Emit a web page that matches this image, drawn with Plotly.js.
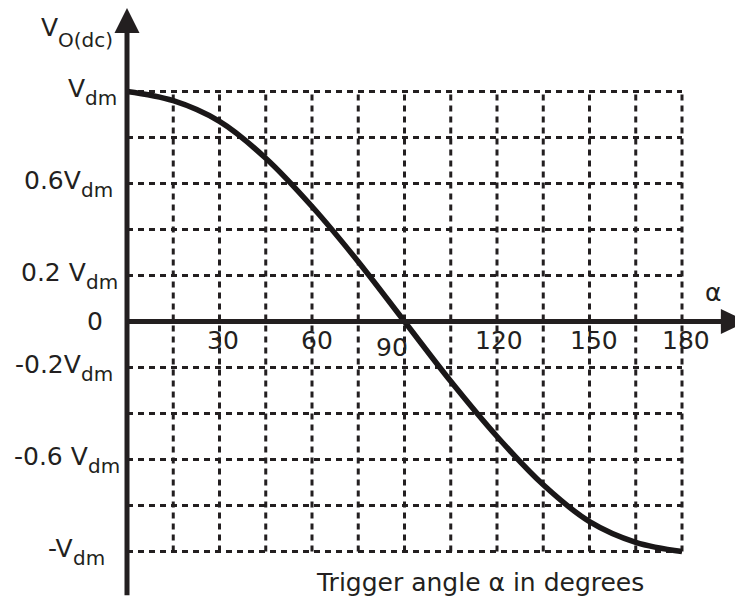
<!DOCTYPE html>
<html>
<head>
<meta charset="utf-8">
<script src="https://cdn.plot.ly/plotly-3.0.1.min.js"></script>
<style>html,body{margin:0;padding:0;background:#fff;}#chart{width:735px;height:598px;}</style>
</head>
<body>
<div id="chart"></div>
<script>
// ---- data ----
var curveAlpha = [0, 15, 30, 45, 60, 75, 90, 105, 120, 135, 150, 165, 180];
var curveV     = [1.00, 0.96, 0.87, 0.71, 0.50, 0.26, 0.00, -0.26, -0.50, -0.71, -0.87, -0.96, -1.00];
var gridAlpha  = [15, 30, 45, 60, 75, 90, 105, 120, 135, 150, 165, 180];
var gridV      = [1, 0.8, 0.6, 0.4, 0.2, -0.2, -0.4, -0.6, -0.8, -1];
var xTickVals  = [30, 60, 90, 120, 150, 180];
var xTickText  = ["30", "60", "90", "120", "150", "180"];
var yLabelVals = [1, 0.6, 0.2, 0, -0.2, -0.6, -1];
var yLabelMain = ["V", "0.6V", "0.2 V", "0", "-0.2V", "-0.6 V", "-V"];
var yLabelSub  = ["dm", "dm", "dm", "", "dm", "dm", "dm"];
var yTitleMain = "V";
var yTitleSub  = "O(dc)";
var xSymbol = "α";
var xTitle = "Trigger angle α in degrees";

// ---- styling / placement ----
var INK = "#231f20";
var FAMILY = "DejaVu Sans, Verdana, sans-serif";
var MAINPX = 25, SUBPX = 20;
var FONT = {family: FAMILY, size: MAINPX, color: INK};
var SUBFONT = {family: FAMILY, size: SUBPX, color: INK};
var yLabelShift = [-10, -14, -9, -24, -14, -7, -22];
var xTickShiftX = [3, 5, -13, 2, 4, 4];
var xTickShiftY = [-19, -19, -26, -19, -19, -19];
var MAIN_DY = 3, SUB_DY = -6;
var W = 735, H = 598;

var measureCtx = document.createElement("canvas").getContext("2d");
function textWidth(s, px) {
  measureCtx.font = px + "px 'DejaVu Sans'";
  return measureCtx.measureText(s).width;
}

var shapes = [];
var dashStyle = "6px,5px";
gridAlpha.forEach(function (a) {
  shapes.push({type: "line", xref: "x", yref: "y", x0: a, x1: a, y0: -1, y1: 1,
               line: {color: INK, width: 3, dash: dashStyle}, layer: "below"});
});
gridV.forEach(function (v) {
  shapes.push({type: "line", xref: "x", yref: "y", x0: 0, x1: 180, y0: v, y1: v,
               line: {color: INK, width: 3, dash: dashStyle}, layer: "below"});
});
// axes with arrows
shapes.push({type: "line", xref: "x", yref: "y", x0: 0, x1: 193, y0: 0, y1: 0,
             line: {color: INK, width: 5}});
shapes.push({type: "line", xref: "x", yref: "y", x0: 0, x1: 0, y0: -1.19, y1: 1.26,
             line: {color: INK, width: 5}});
shapes.push({type: "path", xref: "x", yref: "y",
             path: "M -4.05,1.254 L 4.05,1.254 L 0,1.363 Z",
             fillcolor: INK, line: {width: 0}});
shapes.push({type: "path", xref: "x", yref: "y",
             path: "M 192.6,-0.054 L 192.6,0.054 L 201,0 Z",
             fillcolor: INK, line: {width: 0}});

var annotations = [];
function addLabel(base, main, sub, xshift, mainDy, subDy) {
  var subW = sub ? textWidth(sub, SUBPX) : 0;
  annotations.push(Object.assign({}, base, {text: main, showarrow: false, xanchor: "right",
    yanchor: "middle", xshift: xshift - subW, yshift: sub ? mainDy : 0, font: FONT, borderpad: 0, borderwidth: 0}));
  if (sub) {
    annotations.push(Object.assign({}, base, {text: sub, showarrow: false, xanchor: "right",
      yanchor: "middle", xshift: xshift, yshift: subDy, font: SUBFONT, borderpad: 0, borderwidth: 0}));
  }
}
yLabelVals.forEach(function (v, i) {
  addLabel({x: 0, y: v, xref: "x", yref: "y"}, yLabelMain[i], yLabelSub[i],
           yLabelShift[i], MAIN_DY, SUB_DY);
});
xTickVals.forEach(function (a, i) {
  annotations.push({x: a, y: 0, xref: "x", yref: "y", text: xTickText[i], showarrow: false,
                    xanchor: "center", yanchor: "middle", xshift: xTickShiftX[i],
                    yshift: xTickShiftY[i], font: FONT});
});
addLabel({x: 113 / W, y: 1 - 33 / H, xref: "paper", yref: "paper"}, yTitleMain, yTitleSub,
         0, 5, -7);
annotations.push({x: 713 / W, y: 1 - 292 / H, xref: "paper", yref: "paper", text: xSymbol,
                  showarrow: false, xanchor: "center", yanchor: "middle", font: FONT});
annotations.push({x: 480 / W, y: 1 - 582 / H, xref: "paper", yref: "paper", text: xTitle,
                  showarrow: false, xanchor: "center", yanchor: "middle", font: FONT});

var trace = {
  x: curveAlpha, y: curveV, type: "scatter", mode: "lines",
  line: {color: "#1a1718", width: 5.5, shape: "spline", smoothing: 1},
  hoverinfo: "skip"
};

var layout = {
  width: W, height: H,
  margin: {l: 0, r: 0, t: 0, b: 0, pad: 0},
  paper_bgcolor: "#ffffff", plot_bgcolor: "#ffffff",
  showlegend: false,
  xaxis: {range: [-127 / (555 / 180), 180 + (735 - 682) / (555 / 180)], visible: false, fixedrange: true},
  yaxis: {range: [-(598 - 321.5) / 230, 321.5 / 230], visible: false, fixedrange: true},
  shapes: shapes,
  annotations: annotations
};

Plotly.newPlot("chart", [trace], layout, {staticPlot: true, displayModeBar: false});
</script>
</body>
</html>
